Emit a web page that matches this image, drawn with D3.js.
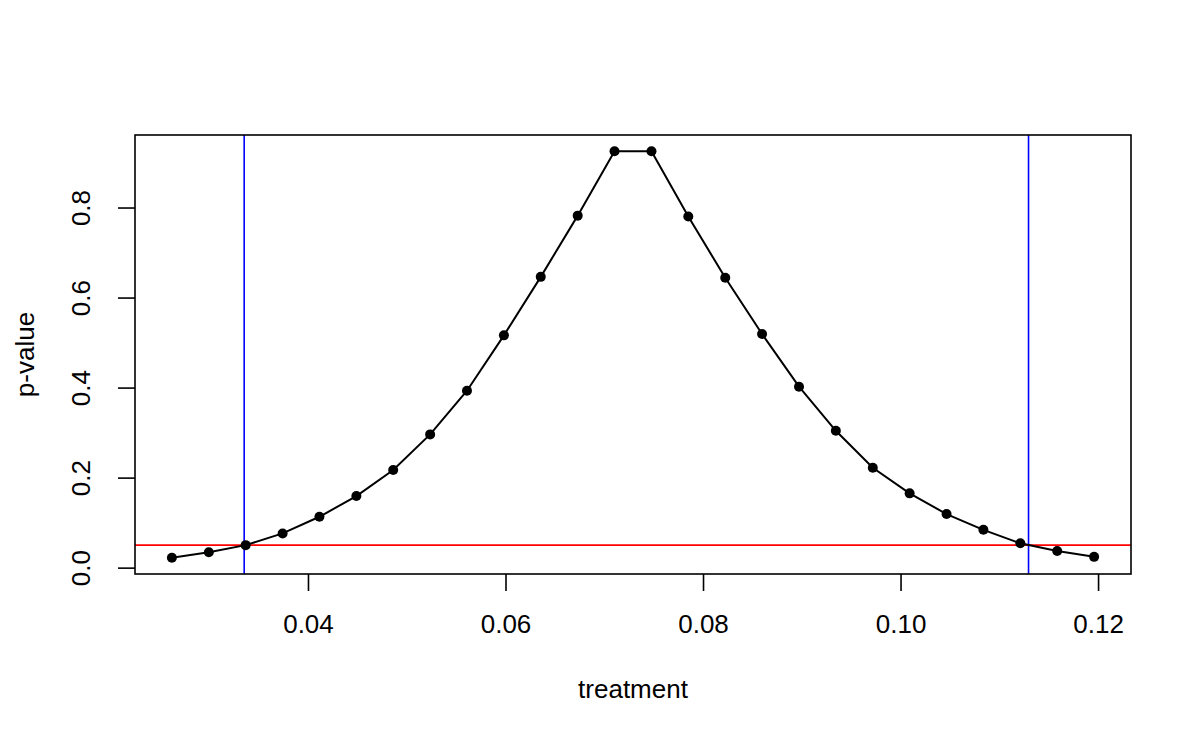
<!DOCTYPE html>
<html>
<head>
<meta charset="utf-8">
<script src="https://cdn.jsdelivr.net/npm/d3@7"></script>
<style>
  body { margin: 0; background: #fff; }
  svg { display: block; font-family: "Liberation Sans", Arial, Helvetica, sans-serif; }
</style>
</head>
<body>
<svg width="1200" height="742"></svg>
<script>
// treatment values tried and the resulting p-values
var treatment = [0.02622, 0.02996, 0.03369, 0.03743, 0.04116, 0.04490, 0.04863,
    0.05237, 0.05610, 0.05984, 0.06357, 0.06731, 0.07104, 0.07478, 0.07851,
    0.08225, 0.08598, 0.08972, 0.09345, 0.09719, 0.10092, 0.10466, 0.10839,
    0.11213, 0.11586, 0.11960];
var pvalue = [0.022, 0.034, 0.050, 0.076, 0.113, 0.159, 0.217, 0.296, 0.393,
    0.516, 0.646, 0.782, 0.925, 0.925, 0.780, 0.644, 0.519, 0.402, 0.304,
    0.222, 0.165, 0.119, 0.084, 0.054, 0.037, 0.024];
var xTicks = [0.04, 0.06, 0.08, 0.10, 0.12];
var yTicks = [0.0, 0.2, 0.4, 0.6, 0.8];
var alpha = 0.05;
var ciBounds = [0.03354, 0.11296];

var svg = d3.select('svg');
var plotL = 135, plotR = 1131, plotT = 135, plotB = 574;

// R style: pad the data range by 4% on each side
function padded(vals) {
    var e = d3.extent(vals);
    var d = (e[1] - e[0]) * 0.04;
    return [e[0] - d, e[1] + d];
}

var x = d3.scaleLinear().domain(padded(treatment)).range([plotL, plotR]);
var y = d3.scaleLinear().domain(padded(pvalue)).range([plotB, plotT]);

// axes
var xAxis = svg.append('g')
    .attr('transform', 'translate(0,' + plotB + ')')
    .call(d3.axisBottom(x).tickValues(xTicks).tickFormat(d3.format('.2f'))
        .tickSize(17).tickPadding(23.5));
var yAxis = svg.append('g')
    .attr('transform', 'translate(' + plotL + ',0)')
    .call(d3.axisLeft(y).tickValues(yTicks).tickFormat(d3.format('.1f'))
        .tickSize(17));
[xAxis, yAxis].forEach(function(g) {
    g.select('.domain').remove();
    g.selectAll('line').attr('stroke', '#000').attr('stroke-width', 1.6);
    g.selectAll('text')
        .attr('fill', '#000')
        .style('font-size', '26px')
        .style('font-family', '"Liberation Sans", Arial, Helvetica, sans-serif');
});
yAxis.selectAll('text')
    .attr('x', null)
    .attr('dy', null)
    .attr('text-anchor', 'middle')
    .attr('transform', 'translate(-45.5,0) rotate(-90)');

// reference lines
svg.append('line')
    .attr('x1', plotL).attr('x2', plotR)
    .attr('y1', y(alpha)).attr('y2', y(alpha))
    .attr('stroke', '#ff0000').attr('stroke-width', 1.6);
svg.selectAll('.ci')
    .data(ciBounds)
    .enter()
    .append('line')
    .attr('class', 'ci')
    .attr('x1', function(d) {return x(d);})
    .attr('x2', function(d) {return x(d);})
    .attr('y1', plotT).attr('y2', plotB)
    .attr('stroke', '#0000ff').attr('stroke-width', 1.6);

// line and points
var pts = d3.zip(treatment, pvalue);
svg.append('path')
    .datum(pts)
    .attr('fill', 'none')
    .attr('stroke', '#000')
    .attr('stroke-width', 2)
    .attr('d', d3.line()
        .x(function(d) {return x(d[0]);})
        .y(function(d) {return y(d[1]);}));
svg.selectAll('.pt')
    .data(pts)
    .enter()
    .append('circle')
    .attr('class', 'pt')
    .attr('cx', function(d) {return x(d[0]);})
    .attr('cy', function(d) {return y(d[1]);})
    .attr('r', 5)
    .attr('fill', '#000');

// box
svg.append('rect')
    .attr('x', plotL).attr('y', plotT)
    .attr('width', plotR - plotL).attr('height', plotB - plotT)
    .attr('fill', 'none')
    .attr('stroke', '#000')
    .attr('stroke-width', 1.6);

// axis titles
svg.append('text')
    .attr('x', (plotL + plotR) / 2)
    .attr('y', 698)
    .attr('text-anchor', 'middle')
    .style('font-size', '26px')
    .text('treatment');
svg.append('text')
    .attr('transform', 'translate(34,' + (plotT + plotB) / 2 + ') rotate(-90)')
    .attr('text-anchor', 'middle')
    .style('font-size', '26px')
    .text('p-value');
</script>
</body>
</html>
